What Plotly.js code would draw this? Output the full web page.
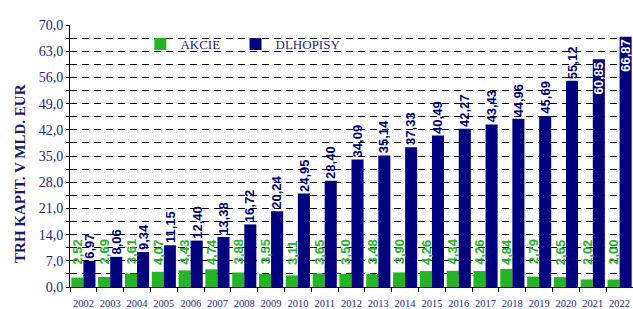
<!DOCTYPE html>
<html>
<head>
<meta charset="utf-8">
<script src="https://cdn.plot.ly/plotly-3.0.1.min.js"></script>
<style>html,body{margin:0;padding:0;background:#fff;}#chart{width:633px;height:309px;}</style>
</head>
<body>
<div id="chart"></div>
<script>
const years = ["2002","2003","2004","2005","2006","2007","2008","2009","2010","2011","2012","2013","2014","2015","2016","2017","2018","2019","2020","2021","2022"];
const akcie = [2.52,2.69,3.61,4.07,4.43,4.74,3.88,3.55,3.11,3.65,3.50,3.48,3.90,4.26,4.34,4.26,4.84,2.79,2.65,2.02,2.00];
const dlhopisy = [6.97,8.06,9.34,11.15,12.40,13.38,16.72,20.24,24.95,28.40,34.09,35.14,37.33,40.49,42.27,43.43,44.96,45.69,55.12,60.85,66.87];
const seriesNames = ["AKCIE","DLHOPISY"];

const fmt = v => v.toFixed(2).replace('.', ',');
const GREEN = '#22b622', NAVY = '#000080', TXT = '#1e1e8c';
const LBLFONT = 'Liberation Sans, Arial';
const LEGFONT = {family:'Liberation Serif, Times New Roman', size:13, color:TXT};

const traces = [
  {type:'bar', name:seriesNames[0], x:years, y:akcie, marker:{color:GREEN}, hoverinfo:'none', legend:'legend'},
  {type:'bar', name:seriesNames[1], x:years, y:dlhopisy, marker:{color:NAVY}, hoverinfo:'none', legend:'legend2'}
];

const annotations = [];
akcie.forEach((v,i) => annotations.push({
  x: i, y: 5.7, xref:'x', yref:'y', text: fmt(v), showarrow:false,
  textangle:-90, yanchor:'bottom', xanchor:'center', xshift:-6, borderpad:0,
  font:{family:LBLFONT, size:13, color:GREEN, weight:'bold'}
}));
dlhopisy.forEach((v,i) => {
  const inside = v > 58;
  annotations.push({
    x: i, y: v, xref:'x', yref:'y', text: fmt(v), showarrow:false,
    textangle:-90, yanchor: inside ? 'top' : 'bottom', xanchor:'center', xshift:6,
    yshift: inside ? -1 : 1, borderpad:0,
    font:{family:LBLFONT, size:13, color: inside ? '#ffffff' : NAVY, weight:'bold'}
  });
});
annotations.push({
  xref:'paper', yref:'paper', x:-0.09, y:0.433, text:'TRH KAPIT. V MLD. EUR',
  showarrow:false, textangle:-90, xanchor:'center', yanchor:'middle',
  font:{family:'Liberation Serif, Times New Roman', size:15, color:'#1a1a6e', weight:'bold'}
});

const layout = {
  width:633, height:309,
  margin:{l:70, r:0, t:25, b:22, pad:0},
  paper_bgcolor:'#ffffff', plot_bgcolor:'#ffffff',
  barmode:'group', bargap:0.1, bargroupgap:0,
  separators:',.',
  showlegend:true,
  legend:{orientation:'h', x:0.125, y:0.985, xanchor:'left', yanchor:'top',
    bgcolor:'rgba(0,0,0,0)', font:LEGFONT},
  legend2:{orientation:'h', x:0.294, y:0.985, xanchor:'left', yanchor:'top',
    bgcolor:'rgba(0,0,0,0)', font:LEGFONT},
  xaxis:{type:'category', range:[-0.5,20.5], showgrid:false, zeroline:false,
    showline:true, linecolor:'#000', linewidth:1, ticks:'outside', tickson:'boundaries',
    ticklen:4, tickcolor:'#000', tickangle:0, ticklabelstandoff:6,
    tickfont:{family:'Liberation Serif, Times New Roman', size:10.5, color:TXT}},
  yaxis:{range:[0,70], dtick:7, tick0:0, tickformat:'.1f', showgrid:true,
    gridcolor:'#000', griddash:'7px,5px', gridwidth:1, zeroline:false,
    showline:true, linecolor:'#000', linewidth:1, ticks:'outside', ticklen:3, tickcolor:'#000',
    tickfont:{family:'Liberation Serif, Times New Roman', size:14, color:TXT},
    minor:{dtick:3.5, showgrid:true, gridcolor:'#000', griddash:'7px,5px', ticks:'outside', ticklen:3, tickcolor:'#000'}},
  annotations:annotations
};

Plotly.newPlot('chart', traces, layout, {staticPlot:true, displayModeBar:false});
</script>
</body>
</html>
